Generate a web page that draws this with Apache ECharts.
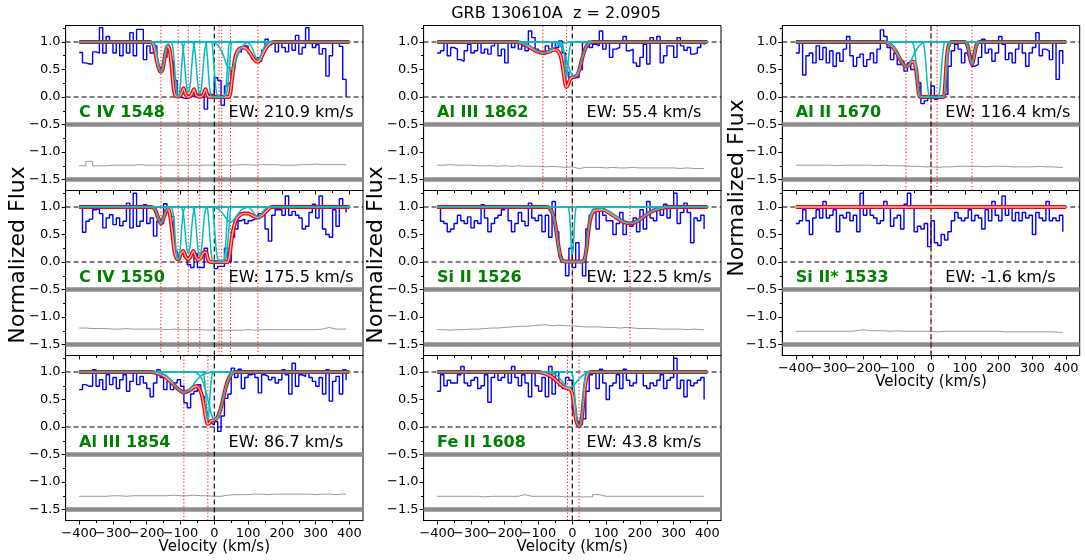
<!DOCTYPE html>
<html><head><meta charset="utf-8">
<script src="https://cdn.jsdelivr.net/npm/echarts@6/dist/echarts.min.js"></script>
<style>html,body{margin:0;padding:0;background:#fff}#c{width:1085px;height:560px}</style>
</head><body><div id="c"></div>
<script>
// ---------------- DATA ----------------
const TITLE = 'GRB 130610A  z = 2.0905';
const LINE_LABELS = ['C IV 1548','C IV 1550','Al III 1854','Al III 1862','Si II 1526','Fe II 1608','Al II 1670','Si II* 1533'];
const EW_VALUES = [210.9, 175.5, 86.7, 55.4, 122.5, 43.8, 116.4, -1.6];
const X_MAJOR = [-400,-300,-200,-100,0,100,200,300,400];
const X_MINOR = [-350,-250,-150,-50,50,150,250,350];
const Y_MAJOR = [-1.5,-1.0,-0.5,0.0,0.5,1.0];
const Y_MINOR = [-1.25,-0.75,-0.25,0.25,0.75,1.25];

const VEL = [-400,-390,-380,-370,-360,-350,-340,-330,-320,-310,-300,-290,-280,-270,-260,-250,-240,-230,-220,-210,-200,-190,-180,-170,-160,-150,-140,-130,-120,-110,-100,-90,-80,-70,-60,-50,-40,-30,-20,-10,0,10,20,30,40,50,60,70,80,90,100,110,120,130,140,150,160,170,180,190,200,210,220,230,240,250,260,270,280,290,300,310,320,330,340,350,360,370,380,390];
const ERR_VEL = [-400,-380,-360,-340,-320,-300,-280,-260,-240,-220,-200,-180,-160,-140,-120,-100,-80,-60,-40,-20,0,20,40,60,80,100,120,140,160,180,200,220,240,260,280,300,320,340,360,380,390];

const FLUX_CIV1548 = [0.81,0.62,0.60,0.60,0.82,0.80,1.26,0.80,1.10,0.98, 0.80,1.00,0.75,0.98,0.80,1.17,0.75,1.23,1.23,0.68, 0.93,0.80,0.93,0.55,0.50,0.72,0.90,0.65,0.30,0.00, -0.02,-0.03,0.00,0.02,0.05,0.05,0.00,-0.22,0.05,0.02, 0.35,0.30,-0.15,0.20,0.25,0.50,0.78,0.82,0.88,0.93, 0.80,0.70,0.72,0.65,0.85,1.05,0.95,1.00,0.82,1.00, 0.90,0.82,1.00,0.85,1.12,0.78,0.90,1.26,1.00,0.90, 0.95,0.78,0.88,0.38,0.75,1.00,0.98,0.92,0.32,0.00];
const FLUX_CIV1550 = [1.02,0.54,0.74,0.78,0.95,0.97,0.88,0.62,0.80,0.86, 0.68,0.80,0.66,0.74,1.07,0.62,1.25,0.65,0.74,1.04, 0.70,0.80,0.47,0.74,0.70,1.06,0.92,0.83,0.20,0.05, 0.15,0.10,-0.05,-0.10,0.15,-0.10,-0.10,0.25,0.00,0.00, -0.12,-0.08,-0.08,0.25,0.00,0.45,0.60,0.75,0.78,0.70, 0.75,0.78,0.80,0.88,0.88,0.60,0.38,0.85,0.95,0.95, 0.85,1.20,0.85,0.92,0.85,0.80,0.60,0.65,0.90,1.05, 0.80,1.20,0.60,0.50,0.45,0.95,0.65,1.15,1.00,0.90];
const FLUX_ALIII1854 = [0.68,0.77,0.74,0.74,1.04,0.74,0.86,0.68,0.95,0.77, 0.90,0.70,0.86,0.95,0.65,0.83,0.98,0.77,0.92,0.80, 0.70,0.55,0.80,1.04,0.90,0.68,0.83,0.68,0.80,0.86, 0.74,0.44,0.35,0.60,0.65,0.77,0.56,0.28,0.07,0.04, 0.10,-0.08,0.20,0.52,0.60,1.07,0.90,1.05,0.70,0.90, 0.95,0.98,0.90,0.62,0.95,0.92,0.86,0.90,0.80,0.86, 1.04,0.95,0.60,1.16,0.74,0.95,0.92,1.00,0.90,0.83, 0.74,0.90,0.60,1.04,0.47,0.83,0.92,0.60,1.04,0.85];
const FLUX_ALIII1862 = [0.80,0.84,1.00,0.75,0.90,0.87,0.68,0.65,0.84,0.96, 0.80,0.84,0.99,0.80,0.87,0.78,0.93,0.99,0.75,0.87, 0.62,0.99,0.90,0.99,0.87,0.93,0.84,1.20,1.08,0.87, 0.80,0.78,0.93,0.87,0.99,0.90,1.02,0.80,0.45,0.35, 0.35,0.36,0.50,0.99,1.02,0.90,0.96,0.93,1.20,0.87, 0.99,0.72,0.87,0.90,1.02,1.10,0.84,0.87,0.62,0.56, 0.72,0.96,0.60,1.08,1.02,1.10,0.62,0.75,0.93,0.93, 0.72,1.08,0.93,0.85,0.90,0.78,0.80,0.90,1.00,0.95];
const FLUX_SIII1526 = [1.00,0.74,0.70,0.55,0.60,0.70,0.85,0.75,0.70,0.82, 0.62,0.75,0.70,1.04,0.80,0.55,0.70,0.80,0.85,0.95, 1.00,0.75,0.55,0.70,0.90,0.74,0.66,1.07,0.80,0.75, 0.85,0.55,0.85,0.45,1.10,0.55,0.10,0.00,-0.25,0.25, -0.10,0.35,0.00,-0.25,0.60,0.85,0.90,0.60,0.95,0.85, 0.75,0.75,0.50,0.70,0.90,0.50,0.70,0.65,0.80,0.55, 0.95,0.60,1.10,0.80,0.75,0.95,0.85,1.05,0.80,1.00, 1.25,0.70,0.90,1.07,0.90,0.35,0.80,0.75,0.85,0.60];
const FLUX_FEII1608 = [0.65,0.95,0.75,0.85,0.80,0.80,0.95,1.10,0.80,0.75, 0.85,0.90,0.70,0.75,0.95,0.45,0.90,1.00,0.85,0.90, 1.00,0.80,1.10,0.90,0.75,0.95,0.80,0.55,1.00,0.75, 0.65,0.90,0.55,1.10,0.60,1.00,0.75,0.70,0.90,0.85, 0.30,0.10,0.05,0.15,0.65,0.95,1.00,0.70,1.05,0.80, 0.50,0.75,0.80,0.95,0.70,1.05,0.85,0.75,0.80,1.00, 1.00,0.75,0.70,0.80,0.75,0.85,0.95,0.70,0.85,0.90, 1.25,0.70,0.85,0.55,0.85,0.75,0.80,0.85,0.90,0.50];
const FLUX_ALII1670 = [0.80,1.00,0.40,0.75,0.80,0.62,0.93,0.68,0.90,0.62, 0.84,0.56,0.80,0.65,0.87,1.10,0.75,0.56,0.72,0.78, 0.56,0.68,0.80,0.62,0.87,1.22,1.10,0.90,0.68,0.80, 0.59,0.65,0.47,0.62,0.50,0.50,0.26,-0.12,-0.07,0.00, 0.20,-0.04,0.00,0.00,0.05,0.56,0.84,0.96,0.87,0.62, 0.80,0.75,0.56,0.59,0.72,1.05,0.80,0.87,0.65,0.80, 1.10,0.96,0.68,0.80,0.62,0.87,1.00,0.80,0.56,0.80, 0.90,1.17,0.75,0.87,0.84,0.68,1.00,0.32,0.84,0.60];
const FLUX_SIIS1533 = [0.70,0.75,0.95,0.75,0.50,0.80,0.95,0.80,1.10,0.80, 0.85,0.95,0.55,0.85,0.80,0.90,0.75,0.85,0.55,1.25, 0.85,1.00,0.85,0.80,0.70,0.75,1.10,1.00,0.65,0.80, 0.85,0.60,1.05,1.25,1.00,0.55,0.65,0.60,0.70,0.28, 0.75,0.35,0.30,0.50,0.40,0.55,0.75,0.90,0.80,0.75, 0.80,0.95,0.75,0.85,0.80,0.60,0.95,0.75,1.10,0.85, 0.75,1.20,0.85,1.00,0.75,0.90,0.75,0.90,0.80,0.85, 0.50,0.90,0.80,0.75,1.10,0.75,0.80,0.75,0.85,0.55];

const ERR_CIV1548 = [0.25,0.33,0.25,0.25,0.26,0.26,0.26,0.26,0.27,0.26, 0.26,0.26,0.26,0.26,0.26,0.26,0.26,0.26,0.26,0.26, 0.26,0.26,0.26,0.27,0.27,0.26,0.27,0.27,0.27,0.26, 0.26,0.26,0.27,0.27,0.28,0.27,0.27,0.27,0.27,0.27,0.27];
const ERR_CIV1550 = [0.30,0.29,0.29,0.29,0.28,0.28,0.29,0.28,0.28,0.28, 0.28,0.28,0.27,0.28,0.27,0.27,0.27,0.27,0.26,0.27, 0.26,0.26,0.26,0.26,0.27,0.26,0.27,0.27,0.27,0.27, 0.27,0.27,0.27,0.27,0.27,0.28,0.31,0.28,0.28,0.28,0.28];
const ERR_ALIII1854 = [0.24,0.24,0.24,0.24,0.25,0.25,0.24,0.25,0.25,0.25, 0.25,0.25,0.25,0.26,0.25,0.25,0.26,0.25,0.25,0.24, 0.24,0.26,0.27,0.27,0.27,0.28,0.28,0.27,0.28,0.28, 0.28,0.28,0.28,0.28,0.27,0.28,0.28,0.27,0.28,0.28,0.28];
const ERR_ALIII1862 = [0.26,0.27,0.26,0.26,0.26,0.25,0.25,0.25,0.24,0.25, 0.24,0.25,0.24,0.24,0.24,0.23,0.24,0.23,0.22,0.23, 0.20,0.22,0.22,0.22,0.21,0.22,0.21,0.21,0.22,0.21, 0.21,0.21,0.21,0.21,0.21,0.20,0.21,0.20,0.20,0.20,0.20];
const ERR_SIII1526 = [0.27,0.26,0.27,0.27,0.28,0.28,0.29,0.30,0.30,0.31, 0.32,0.33,0.33,0.34,0.35,0.36,0.34,0.35,0.34,0.34, 0.33,0.32,0.32,0.32,0.31,0.31,0.30,0.31,0.30,0.29, 0.29,0.29,0.28,0.28,0.28,0.28,0.27,0.28,0.27,0.27,0.27];
const ERR_FEII1608 = [0.24,0.24,0.24,0.24,0.24,0.24,0.23,0.24,0.24,0.24, 0.24,0.24,0.27,0.24,0.24,0.24,0.24,0.24,0.23,0.23, 0.23,0.23,0.23,0.27,0.24,0.24,0.24,0.24,0.24,0.24, 0.24,0.24,0.24,0.24,0.24,0.24,0.24,0.24,0.24,0.24,0.24];
const ERR_ALII1670 = [0.26,0.26,0.26,0.26,0.26,0.25,0.26,0.26,0.26,0.26, 0.26,0.25,0.26,0.25,0.25,0.25,0.24,0.24,0.23,0.23, 0.22,0.23,0.23,0.24,0.24,0.24,0.24,0.23,0.24,0.24, 0.24,0.23,0.23,0.23,0.23,0.24,0.23,0.23,0.22,0.22,0.22];
const ERR_SIIS1533 = [0.24,0.24,0.24,0.24,0.24,0.24,0.24,0.24,0.25,0.27, 0.25,0.25,0.25,0.24,0.25,0.24,0.24,0.24,0.24,0.24, 0.23,0.24,0.24,0.24,0.24,0.24,0.24,0.24,0.24,0.24, 0.23,0.23,0.23,0.23,0.23,0.23,0.23,0.23,0.22,0.22,0.22];

// model fits (total)
const FIT_CIV1548 = [[-400,1],[-192,1],[-180,0.95],[-170,0.66],[-163,0.5],[-158,0.46],[-152,0.53],[-145,0.78],[-138,0.93],[-132,0.85],[-126,0.55],[-120,0.15],[-114,0.02],[-104,0.01],[-97,0.07],[-91,0.16],[-85,0.05],[-77,0.0],[-68,0.04],[-60,0.14],[-54,0.04],[-43,0.0],[-33,0.04],[-26,0.14],[-20,0.03],[-12,0.0],[42,0.0],[47,0.06],[52,0.3],[58,0.58],[65,0.78],[75,0.88],[88,0.9],[100,0.85],[112,0.74],[120,0.67],[127,0.64],[135,0.67],[145,0.8],[155,0.91],[166,0.98],[180,1],[400,1]];
const FIT_CIV1550 = [[-400,1],[-186,1],[-176,0.96],[-167,0.82],[-158,0.7],[-149,0.82],[-140,0.95],[-134,0.94],[-126,0.62],[-118,0.2],[-111,0.06],[-106,0.05],[-100,0.14],[-92,0.2],[-85,0.1],[-78,0.05],[-71,0.09],[-62,0.2],[-55,0.1],[-47,0.04],[-40,0.07],[-32,0.17],[-25,0.18],[-18,0.04],[-10,0.0],[38,0.0],[44,0.08],[50,0.35],[56,0.58],[63,0.74],[72,0.83],[85,0.88],[100,0.88],[115,0.84],[129,0.81],[142,0.85],[155,0.93],[170,1],[400,1]];
const FIT_ALIII1854 = [[-400,1],[-185,1],[-165,0.97],[-145,0.91],[-125,0.8],[-105,0.68],[-90,0.63],[-75,0.66],[-62,0.72],[-52,0.74],[-44,0.7],[-37,0.58],[-31,0.4],[-25,0.18],[-20,0.06],[-16,0.06],[-10,0.11],[0,0.13],[10,0.18],[20,0.36],[30,0.62],[40,0.84],[50,0.96],[60,1],[400,1]];
const FIT_ALIII1862 = [[-400,1],[-165,1],[-145,0.97],[-125,0.9],[-105,0.83],[-87,0.8],[-70,0.82],[-55,0.86],[-45,0.85],[-36,0.77],[-29,0.58],[-23,0.32],[-18,0.18],[-13,0.22],[-7,0.32],[0,0.36],[8,0.37],[15,0.4],[22,0.52],[30,0.72],[40,0.9],[50,0.98],[60,1],[400,1]];
const FIT_SIII1526 = [[-400,1],[-74,1],[-65,0.96],[-57,0.86],[-49,0.63],[-41,0.3],[-34,0.08],[-28,0.02],[-20,0.01],[28,0.01],[35,0.03],[41,0.2],[47,0.52],[53,0.77],[60,0.9],[70,0.94],[90,0.95],[110,0.89],[132,0.8],[151,0.73],[170,0.7],[189,0.73],[208,0.81],[227,0.89],[246,0.95],[284,1],[400,1]];
const FIT_FEII1608 = [[-400,1],[-100,1],[-80,0.97],[-60,0.91],[-45,0.83],[-30,0.75],[-18,0.71],[-10,0.7],[-4,0.67],[1,0.58],[6,0.38],[11,0.14],[16,0.04],[20,0.02],[24,0.04],[29,0.2],[34,0.52],[40,0.84],[46,0.97],[55,1],[400,1]];
const FIT_ALII1670 = [[-400,1],[-140,1],[-122,0.96],[-106,0.85],[-92,0.69],[-82,0.59],[-74,0.55],[-65,0.58],[-57,0.64],[-51,0.64],[-46,0.56],[-41,0.33],[-37,0.1],[-33,0.01],[-28,0.0],[36,0.0],[40,0.08],[44,0.45],[48,0.78],[53,0.95],[61,1],[100,1],[107,0.95],[110.5,0.87],[114,0.76],[117.5,0.65],[121,0.6],[124.5,0.65],[128,0.76],[131.5,0.87],[135,0.95],[142,1],[400,1]];
const FIT_SIIS1533 = [[-400,1],[400,1]];

// fitted components (cyan)
const COMPS_CIV1548 = [
 [[-400,1],[-185,1],[-176,0.93],[-171.5,0.82],[-167,0.67],[-162.5,0.52],[-158,0.45],[-153.5,0.52],[-149,0.67],[-144.5,0.82],[-140,0.93],[-131,1],[400,1]],
 [[-400,1],[-130,1],[-123,0.9],[-118,0.6],[-114,0.25],[-110,0.04],[-107,0.0],[-104,0.04],[-100,0.25],[-96,0.6],[-91,0.9],[-84,1],[400,1]],
 [[-400,1],[-100,1],[-93,0.9],[-88,0.62],[-84,0.3],[-80,0.12],[-77,0.08],[-74,0.12],[-70,0.3],[-66,0.62],[-61,0.9],[-54,1],[400,1]],
 [[-400,1],[-67,1],[-59,0.9],[-54,0.62],[-50,0.3],[-46,0.1],[-43,0.05],[-40,0.1],[-36,0.3],[-32,0.62],[-27,0.9],[-19,1],[400,1]],
 [[-400,1],[-28,1],[-22,0.85],[-17,0.4],[-12,0.08],[-5,0],[14,0],[30,0.02],[36,0.3],[41,0.75],[47,1],[400,1]],
 [[-400,1],[-10,1],[-4,0.8],[2,0.35],[8,0.05],[22,0],[36,0.05],[42,0.35],[48,0.8],[54,1],[400,1]],
 [[-400,1],[-6,1],[12,0.93],[21,0.84],[30,0.7],[39,0.56],[48,0.5],[57,0.56],[66,0.7],[75,0.84],[84,0.93],[102,1],[400,1]],
 [[-400,1],[93,1],[105,0.96],[111,0.9],[117,0.81],[123,0.72],[129,0.68],[135,0.72],[141,0.81],[147,0.9],[153,0.96],[165,1],[400,1]]
];
const COMPS_CIV1550 = [
 [[-400,1],[-185,1],[-176,0.96],[-171.5,0.9],[-167,0.82],[-162.5,0.74],[-158,0.7],[-153.5,0.74],[-149,0.82],[-144.5,0.9],[-140,0.96],[-131,1],[400,1]],
 [[-400,1],[-130,1],[-123,0.92],[-118,0.65],[-114,0.3],[-110,0.08],[-107,0.05],[-104,0.08],[-100,0.3],[-96,0.65],[-91,0.92],[-84,1],[400,1]],
 [[-400,1],[-100,1],[-93,0.92],[-88,0.68],[-84,0.38],[-80,0.2],[-77,0.15],[-74,0.2],[-70,0.38],[-66,0.68],[-61,0.92],[-54,1],[400,1]],
 [[-400,1],[-67,1],[-59,0.92],[-54,0.66],[-50,0.35],[-46,0.15],[-43,0.1],[-40,0.15],[-36,0.35],[-32,0.66],[-27,0.92],[-19,1],[400,1]],
 [[-400,1],[-24,1],[-18,0.85],[-13,0.45],[-8,0.1],[-2,0],[14,0],[28,0.03],[34,0.35],[39,0.8],[45,1],[400,1]],
 [[-400,1],[-8,1],[-2,0.8],[4,0.35],[10,0.06],[22,0.02],[34,0.06],[40,0.35],[46,0.8],[52,1],[400,1]],
 [[-400,1],[-6,1],[12,0.96],[21,0.91],[30,0.84],[39,0.76],[48,0.73],[57,0.76],[66,0.84],[75,0.91],[84,0.96],[102,1],[400,1]],
 [[-400,1],[93,1],[105,0.98],[111,0.94],[117,0.89],[123,0.84],[129,0.82],[135,0.84],[141,0.89],[147,0.94],[153,0.98],[165,1],[400,1]]
];
const COMPS_ALIII1854 = [
 [[-400,1],[-174,1],[-146,0.95],[-132,0.88],[-118,0.77],[-104,0.67],[-90,0.62],[-76,0.67],[-62,0.77],[-48,0.88],[-34,0.95],[-6,1],[400,1]],
 [[-400,1],[-36,1],[-30,0.9],[-26,0.65],[-23,0.35],[-21,0.18],[-19,0.12],[-17,0.18],[-15,0.35],[-12,0.65],[-8,0.9],[-2,1],[400,1]],
 [[-400,1],[-60,1],[-45,0.95],[-35,0.85],[-25,0.65],[-15,0.4],[-7,0.2],[3,0.13],[13,0.2],[21,0.4],[31,0.65],[41,0.85],[51,0.95],[62,1],[400,1]]
];
const COMPS_ALIII1862 = [
 [[-400,1],[-171,1],[-143,0.97],[-129,0.94],[-115,0.88],[-101,0.82],[-87,0.8],[-73,0.82],[-59,0.88],[-45,0.94],[-31,0.97],[-3,1],[400,1]],
 [[-400,1],[-34,1],[-28,0.93],[-24,0.78],[-21,0.58],[-19,0.42],[-17,0.35],[-15,0.42],[-13,0.58],[-10,0.78],[-6,0.93],[0,1],[400,1]],
 [[-400,1],[-55,1],[-40,0.96],[-30,0.88],[-20,0.72],[-10,0.53],[-2,0.41],[5,0.37],[12,0.4],[20,0.5],[30,0.72],[40,0.9],[50,0.98],[60,1],[400,1]]
];
const COMPS_SIII1526 = [
 [[-400,1],[-14,1],[-9,0.9],[-6,0.65],[-4,0.4],[-2,0.2],[0,0.15],[2,0.2],[4,0.4],[6,0.65],[9,0.9],[14,1],[400,1]],
 [[-400,1],[-74,1],[-65,0.96],[-57,0.86],[-49,0.63],[-41,0.3],[-34,0.08],[-28,0.01],[-20,0],[28,0],[35,0.02],[41,0.2],[47,0.55],[53,0.82],[60,0.95],[70,1],[400,1]],
 [[-400,1],[56,1],[94,0.96],[113,0.9],[132,0.82],[151,0.74],[170,0.7],[189,0.74],[208,0.82],[227,0.9],[246,0.96],[284,1],[400,1]]
];
const COMPS_FEII1608 = [
 [[-400,1],[-74,1],[-52,0.96],[-41,0.91],[-30,0.83],[-19,0.75],[-8,0.72],[3,0.75],[14,0.83],[25,0.91],[36,0.96],[58,1],[400,1]],
 [[-400,1],[-4,1],[2,0.9],[7,0.6],[11,0.25],[15,0.06],[20,0.02],[25,0.06],[29,0.25],[33,0.6],[38,0.9],[44,1],[400,1]]
];
const COMPS_ALII1670 = [
 [[-400,1],[-134,1],[-114,0.94],[-104,0.85],[-94,0.73],[-84,0.6],[-74,0.55],[-64,0.6],[-54,0.73],[-44,0.85],[-34,0.94],[-14,1],[400,1]],
 [[-400,1],[-58,1],[-50,0.9],[-44,0.6],[-39,0.25],[-35,0.05],[-30,0],[18,0],[24,0.05],[28,0.25],[32,0.6],[37,0.9],[43,1],[400,1]],
 [[-400,1],[-26,1],[-20,0.9],[-15,0.6],[-11,0.25],[-7,0.05],[-2,0],[36,0],[40,0.05],[44,0.3],[48,0.65],[53,0.92],[60,1],[400,1]],
 [[-400,1],[100,1],[107,0.95],[110.5,0.87],[114,0.76],[117.5,0.65],[121,0.6],[124.5,0.65],[128,0.76],[131.5,0.87],[135,0.95],[142,1],[400,1]]
];
const COMPS_SIIS1533 = [];

const VLINES_CIV = [-158,-107,-77,-43,14,22,48,129];
const VLINES_ALIII1854 = [-90,-19];
const VLINES_ALIII1862 = [-87,-17];
const VLINES_SIII1526 = [0,171];
const VLINES_FEII1608 = [-14,20];
const VLINES_ALII1670 = [-74,0,18,121];
const VLINES_SIIS1533 = [0];

// ---------------- LAYOUT ----------------
const FONT = '"DejaVu Sans", sans-serif';
const COL_LEFT = [65.6, 423.6, 782.3];
const GRID_W = 297.4;
const ROW_TOP = [25.5, 190.5, 355.5];
const GRID_H = 165;
const XMIN = -440, XMAX = 440, YMIN = -1.7, YMAX = 1.3;

const PANELS = [
  {flux:FLUX_CIV1548, err:ERR_CIV1548, fit:FIT_CIV1548, comps:COMPS_CIV1548, vl:VLINES_CIV, col:0, row:0, xlab:false},
  {flux:FLUX_CIV1550, err:ERR_CIV1550, fit:FIT_CIV1550, comps:COMPS_CIV1550, vl:VLINES_CIV, col:0, row:1, xlab:false},
  {flux:FLUX_ALIII1854, err:ERR_ALIII1854, fit:FIT_ALIII1854, comps:COMPS_ALIII1854, vl:VLINES_ALIII1854, col:0, row:2, xlab:true},
  {flux:FLUX_ALIII1862, err:ERR_ALIII1862, fit:FIT_ALIII1862, comps:COMPS_ALIII1862, vl:VLINES_ALIII1862, col:1, row:0, xlab:false},
  {flux:FLUX_SIII1526, err:ERR_SIII1526, fit:FIT_SIII1526, comps:COMPS_SIII1526, vl:VLINES_SIII1526, col:1, row:1, xlab:false},
  {flux:FLUX_FEII1608, err:ERR_FEII1608, fit:FIT_FEII1608, comps:COMPS_FEII1608, vl:VLINES_FEII1608, col:1, row:2, xlab:true},
  {flux:FLUX_ALII1670, err:ERR_ALII1670, fit:FIT_ALII1670, comps:COMPS_ALII1670, vl:VLINES_ALII1670, col:2, row:0, xlab:false},
  {flux:FLUX_SIIS1533, err:ERR_SIIS1533, fit:FIT_SIIS1533, comps:COMPS_SIIS1533, vl:VLINES_SIIS1533, col:2, row:1, xlab:true}
];

const minus = v => (v < 0 ? '\u2212' : '');
const fmtY = v => minus(v) + Math.abs(v).toFixed(1);
const fmtX = v => minus(v) + Math.abs(v);

const grids = [], xAxes = [], yAxes = [], series = [], graphics = [];

PANELS.forEach((p, i) => {
  const left = COL_LEFT[p.col], top = ROW_TOP[p.row];
  grids.push({left: left, top: top, width: GRID_W, height: GRID_H, show: true,
    borderColor: '#000', borderWidth: 1, backgroundColor: 'transparent', containLabel: false, outerBoundsMode: 'none'});
  xAxes.push({type:'value', gridIndex:i, min:XMIN, max:XMAX, position:'bottom',
    axisLine:{show:true, onZero:false, lineStyle:{color:'#000', width:1}},
    axisTick:{show:true, inside:false, length:4, customValues:X_MAJOR, lineStyle:{color:'#000', width:1}},
    axisLabel:{show:false}, splitLine:{show:false}});
  xAxes.push({type:'value', gridIndex:i, min:XMIN, max:XMAX, position:'bottom',
    axisLine:{show:false, onZero:false}, axisTick:{show:true, inside:false, length:2.5, customValues:X_MINOR, lineStyle:{color:'#000', width:1}},
    axisLabel:{show:false}, splitLine:{show:false}});
  yAxes.push({type:'value', gridIndex:i, min:YMIN, max:YMAX, position:'left',
    axisLine:{show:true, onZero:false, lineStyle:{color:'#000', width:1}},
    axisTick:{show:true, inside:false, length:4, customValues:Y_MAJOR, lineStyle:{color:'#000', width:1}},
    axisLabel:{show:true, customValues:Y_MAJOR, formatter:fmtY, fontSize:13, color:'#000', fontFamily:FONT, margin:5,
      showMinLabel:true, showMaxLabel:true, hideOverlap:false},
    splitLine:{show:false}});
  yAxes.push({type:'value', gridIndex:i, min:YMIN, max:YMAX, position:'left', offset:0,
    axisLine:{show:false, onZero:false}, axisTick:{show:true, inside:false, length:2.5, customValues:Y_MINOR, lineStyle:{color:'#000', width:1}},
    axisLabel:{show:false}, splitLine:{show:false}});
  const xi = 2*i, yi = 2*i;
  const base = {type:'line', xAxisIndex:xi, yAxisIndex:yi, symbol:'none', silent:true, animation:false};
  [-0.5, -1.5].forEach(y => series.push(Object.assign({}, base, {
    data:[[XMIN,y],[XMAX,y]], lineStyle:{color:'#8c8c8c', width:4.5}, z:1})));
  series.push(Object.assign({}, base, {data: p.err.map((e,k)=>[ERR_VEL[k], e - 1.5]), step:'end',
    lineStyle:{color:'#808080', width:0.8}, z:2}));
  series.push(Object.assign({}, base, {data: p.flux.map((f,k)=>[VEL[k], f]), step:'end',
    lineStyle:{color:'#0000ff', width:1.4}, z:3}));
  [0, 1].forEach(y => series.push(Object.assign({}, base, {
    data:[[XMIN,y],[XMAX,y]], lineStyle:{color:'#000', width:1.1, type:[5,3]}, z:4})));
  series.push(Object.assign({}, base, {data:[[0,YMIN],[0,YMAX]], lineStyle:{color:'#000', width:1.1, type:[5,3]}, z:4}));
  p.vl.forEach(v => series.push(Object.assign({}, base, {
    data:[[v,YMIN],[v,YMAX]], lineStyle:{color:'#ff0000', width:1, type:[1.2,2.2]}, z:5})));
  series.push(Object.assign({}, base, {data:p.fit, smooth:0.3, lineStyle:{color:'#ff0000', width:4}, z:6}));
  series.push(Object.assign({}, base, {data:p.fit, smooth:0.3, lineStyle:{color:'#f7b0b0', width:1.4}, z:7}));
  p.comps.forEach(c => series.push(Object.assign({}, base, {data:c, smooth:0.3,
    lineStyle:{color:'#00bfbf', width:1.5}, z:8})));
  graphics.push({type:'text', x:left+13.5, y:top+87.5, z:20, style:{text:LINE_LABELS[i], fill:'#008000',
    font:'bold 16px ' + FONT, align:'left', verticalAlign:'middle'}});
  graphics.push({type:'text', x:left+163, y:top+87.5, z:20, style:{text:'EW: ' + EW_VALUES[i].toFixed(1) + ' km/s', fill:'#000',
    font:'16px ' + FONT, align:'left', verticalAlign:'middle'}});
  if (p.xlab) {
    graphics.push({type:'text', x:left+GRID_W/2, y:top+GRID_H+26.5, z:20, style:{text:'Velocity (km/s)', fill:'#000',
      font:'15px ' + FONT, align:'center', verticalAlign:'middle'}});
  }
});

[[18, 255], [376, 255], [737, 188]].forEach(([x, y]) => graphics.push({type:'text', x:x, y:y, rotation:Math.PI/2, z:20,
  style:{text:'Normalized Flux', fill:'#000', font:'22px ' + FONT, align:'center', verticalAlign:'middle'}}));
graphics.push({type:'text', x:556, y:14, z:20, style:{text:TITLE, fill:'#000', font:'16px ' + FONT, align:'center', verticalAlign:'middle'}});

const chart = echarts.init(document.getElementById('c'), null, {renderer:'canvas', width:1085, height:560});
chart.setOption({animation:false, backgroundColor:'#fff', grid:grids, xAxis:xAxes, yAxis:yAxes, series:series, graphic:graphics});

// velocity tick labels on the bottom panel of each column, placed through the axis scale
const tickLabels = [];
PANELS.forEach((p, i) => {
  if (!p.xlab) return;
  X_MAJOR.forEach(v => {
    const px = chart.convertToPixel({xAxisIndex: 2*i}, v);
    tickLabels.push({type:'text', x:px, y:ROW_TOP[p.row] + GRID_H + 13.5, z:20,
      style:{text:fmtX(v), fill:'#000', font:'13px ' + FONT, align:'center', verticalAlign:'middle'}});
  });
});
chart.setOption({graphic: graphics.concat(tickLabels)});
</script></body></html>
